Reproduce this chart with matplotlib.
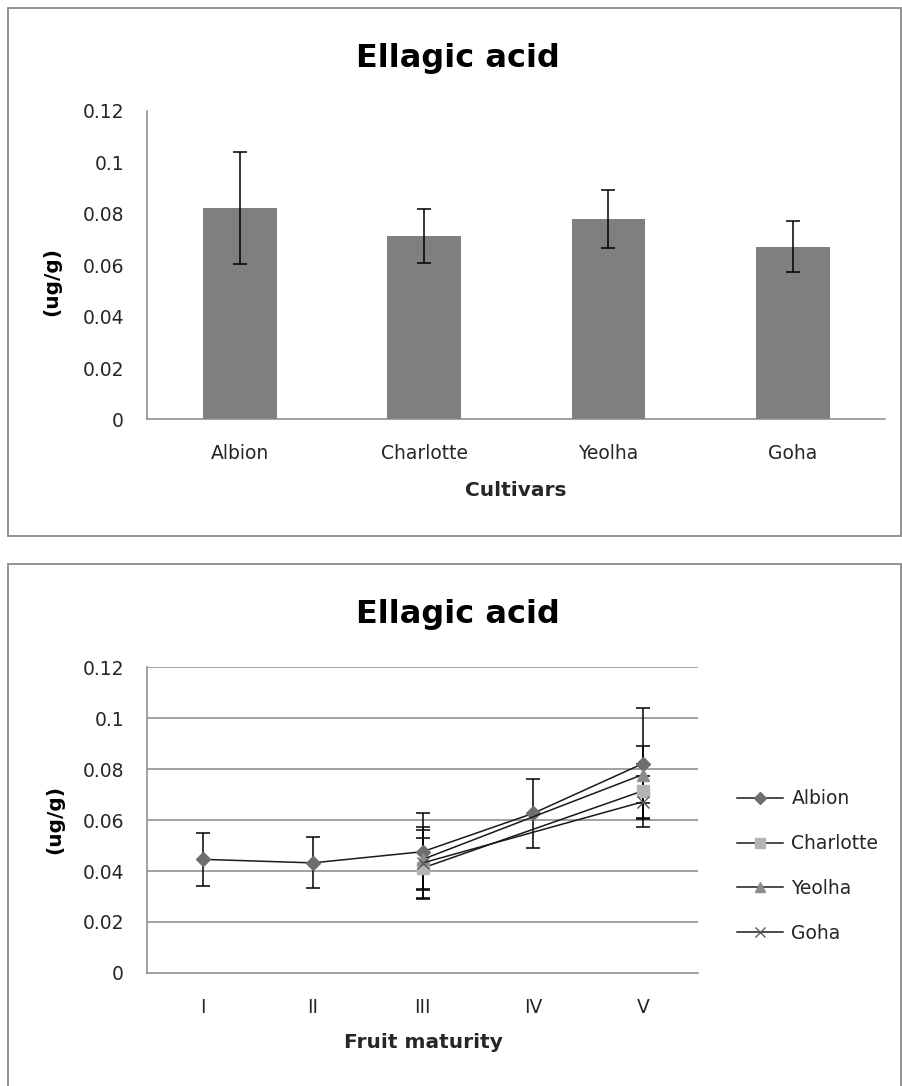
import numpy as np
import matplotlib
matplotlib.use("Agg")
import matplotlib.pyplot as plt
from matplotlib.patches import Rectangle

plt.rcParams['font.family'] = ['DejaVu Sans']

# ---- data: bar chart (cultivars) ----
cultivars = ['Albion', 'Charlotte', 'Yeolha', 'Goha']
bar_mean = [0.0822, 0.0715, 0.0779, 0.0672]
bar_err = [0.0219, 0.0105, 0.0112, 0.0100]

# ---- data: line chart (fruit maturity) ----
stages = ['I', 'II', 'III', 'IV', 'V']
nan = np.nan
albion_mean = [0.0446, 0.0432, 0.0476, 0.0626, 0.0822]
albion_err = [0.0104, 0.0100, 0.0151, 0.0137, 0.0219]
charlotte_mean = [nan, nan, 0.0412, nan, 0.0715]
charlotte_err = [nan, nan, 0.0118, nan, 0.0105]
yeolha_mean = [nan, nan, 0.0446, nan, 0.0779]
yeolha_err = [nan, nan, 0.0115, nan, 0.0112]
goha_mean = [nan, nan, 0.0432, nan, 0.0672]
goha_err = [nan, nan, 0.0140, nan, 0.0100]

yticks = [0, 0.02, 0.04, 0.06, 0.08, 0.1, 0.12]
ytick_labels = ['0', '0.02', '0.04', '0.06', '0.08', '0.1', '0.12']

W, H = 903, 1086
AXIS_GRAY = '#878787'
TEXT = '#262626'

fig = plt.figure(figsize=(W / 100, H / 100), dpi=100)
fig.patch.set_facecolor('white')


def px_rect(x0, y0, x1, y1):
    # pixel box (top-left origin) -> figure fraction [l, b, w, h]
    return [x0 / W, (H - y1) / H, (x1 - x0) / W, (y1 - y0) / H]


def frame(x0, y0, x1, y1):
    l, b, w, h = px_rect(x0, y0, x1, y1)
    fig.patches.append(Rectangle((l, b), w, h, transform=fig.transFigure,
                                 fill=False, edgecolor='#8a8a8a', linewidth=1.3,
                                 clip_on=False))


def style_axes(ax):
    for s in ['top', 'right']:
        ax.spines[s].set_visible(False)
    for s in ['left', 'bottom']:
        ax.spines[s].set_color(AXIS_GRAY)
        ax.spines[s].set_linewidth(1.1)
    ax.set_ylim(0, 0.12)
    ax.set_yticks(yticks)
    ax.set_yticklabels(ytick_labels)
    ax.tick_params(axis='y', length=0, pad=17, labelsize=13.5, labelcolor=TEXT)
    ax.tick_params(axis='x', length=0, pad=18, labelsize=13.5, labelcolor=TEXT)


# panel frames
frame(7.5, 7.5, 901, 536)
frame(7.5, 564, 901, 1092)

# ---------------- top: bar chart ----------------
ax1 = fig.add_axes(px_rect(147.5, 111, 885, 419.4))
x1 = np.arange(len(cultivars))
ax1.bar(x1, bar_mean, width=0.4, color='#7f7f7f', zorder=2)
ax1.errorbar(x1, bar_mean, yerr=bar_err, fmt='none', ecolor='black',
             elinewidth=1.1, capsize=5, capthick=1.1, zorder=3)
ax1.set_xlim(-0.5, len(cultivars) - 0.5)
ax1.set_xticks(x1)
ax1.set_xticklabels(cultivars)
style_axes(ax1)
fig.text(458 / W, 1 - 67 / H, 'Ellagic acid', ha='center', va='baseline',
         fontsize=23, fontweight='bold', color='black')
fig.text(516 / W, 1 - 491 / H, 'Cultivars', ha='center', va='center',
         fontsize=14.5, fontweight='bold', color=TEXT)
fig.text(52 / W, 1 - 281 / H, '(ug/g)', ha='center', va='center', rotation=90,
         fontsize=14.5, fontweight='bold', color='black')

# ---------------- bottom: line chart ----------------
ax2 = fig.add_axes(px_rect(147.5, 667.3, 698, 972.9))
x2 = np.arange(len(stages))
ax2.set_xlim(-0.5, len(stages) - 0.5)
ax2.set_xticks(x2)
ax2.set_xticklabels(stages)
style_axes(ax2)
for v in yticks[1:]:
    ax2.axhline(v, color=AXIS_GRAY, linewidth=1.1, zorder=1)

series = [
    ('Albion', albion_mean, albion_err, dict(marker='D', markersize=7.5, markerfacecolor='#6e6e6e', markeredgecolor='#6e6e6e')),
    ('Charlotte', charlotte_mean, charlotte_err, dict(marker='s', markersize=8, markerfacecolor='#b4b4b4', markeredgecolor='#b4b4b4')),
    ('Yeolha', yeolha_mean, yeolha_err, dict(marker='^', markersize=8.5, markerfacecolor='#8c8c8c', markeredgecolor='#8c8c8c')),
    ('Goha', goha_mean, goha_err, dict(marker='x', markersize=8.5, markerfacecolor='#5a5a5a', markeredgecolor='#5a5a5a', markeredgewidth=1.0)),
]
handles = []
for name, mean, err, mk in series:
    mean = np.array(mean)
    err = np.array(err)
    ok = ~np.isnan(mean)
    ax2.errorbar(x2[ok], mean[ok], yerr=err[ok], fmt='none', ecolor='black',
                 elinewidth=1.1, capsize=5, capthick=1.1, zorder=3)
    h, = ax2.plot(x2[ok], mean[ok], color='#1a1a1a', linewidth=1.1, zorder=4,
                  label=name, **mk)
    handles.append(h)

leg = fig.legend(handles=handles, loc='center left',
                 bbox_to_anchor=(737 / W, 1 - 866 / H), frameon=False,
                 fontsize=13.5, handlelength=2.45, handletextpad=0.45,
                 labelspacing=1.38, borderpad=0, borderaxespad=0, markerscale=0.85)
for t in leg.get_texts():
    t.set_color(TEXT)

fig.text(458 / W, 1 - 623 / H, 'Ellagic acid', ha='center', va='baseline',
         fontsize=23, fontweight='bold', color='black')
fig.text(423 / W, 1 - 1043 / H, 'Fruit maturity', ha='center', va='center',
         fontsize=14.5, fontweight='bold', color=TEXT)
fig.text(55 / W, 1 - 820 / H, '(ug/g)', ha='center', va='center', rotation=90,
         fontsize=14.5, fontweight='bold', color='black')

fig.savefig('out.png', dpi=100, facecolor='white')
